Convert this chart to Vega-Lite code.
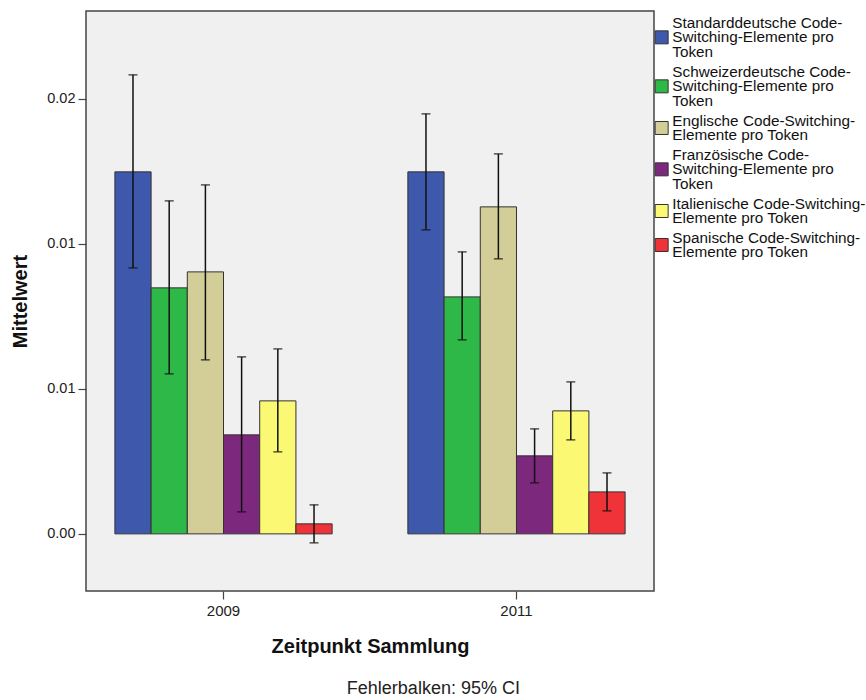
{
  "$schema": "https://vega.github.io/schema/vega-lite/v6.json",
  "width": 568,
  "height": 580,
  "autosize": {"type": "none"},
  "padding": {"left": 86, "top": 11, "right": 212, "bottom": 109},
  "background": "white",
  "config": {
    "font": "Liberation Sans",
    "view": {"fill": "#F0F0F0", "stroke": "#444444", "strokeWidth": 1.5},
    "axis": {"grid": false, "domain": false, "tickColor": "#444444", "tickWidth": 1.2, "labelColor": "#222222", "titleColor": "#111111"},
    "style": {"guide-label": {"lineHeight": 14.7}}
  },
  "title": {
    "text": "Fehlerbalken: 95% CI",
    "orient": "bottom",
    "anchor": "middle",
    "frame": "bounds",
    "fontSize": 18,
    "fontWeight": "normal",
    "color": "#222222",
    "offset": 24,
    "dx": -7
  },
  "data": {
    "values": [
      {"jahr": "2009", "serie": "Standarddeutsche Code-Switching-Elemente pro Token", "mittel": 0.012483, "lo": 0.009172, "hi": 0.015828},
      {"jahr": "2009", "serie": "Schweizerdeutsche Code-Switching-Elemente pro Token", "mittel": 0.008483, "lo": 0.005517, "hi": 0.011483},
      {"jahr": "2009", "serie": "Englische Code-Switching-Elemente pro Token", "mittel": 0.009034, "lo": 0.006, "hi": 0.012034},
      {"jahr": "2009", "serie": "Französische Code-Switching-Elemente pro Token", "mittel": 0.003414, "lo": 0.000759, "hi": 0.006103},
      {"jahr": "2009", "serie": "Italienische Code-Switching-Elemente pro Token", "mittel": 0.004586, "lo": 0.002828, "hi": 0.006379},
      {"jahr": "2009", "serie": "Spanische Code-Switching-Elemente pro Token", "mittel": 0.000345, "lo": -0.00031, "hi": 0.001},
      {"jahr": "2011", "serie": "Standarddeutsche Code-Switching-Elemente pro Token", "mittel": 0.012483, "lo": 0.010483, "hi": 0.014483},
      {"jahr": "2011", "serie": "Schweizerdeutsche Code-Switching-Elemente pro Token", "mittel": 0.008172, "lo": 0.00669, "hi": 0.009724},
      {"jahr": "2011", "serie": "Englische Code-Switching-Elemente pro Token", "mittel": 0.011276, "lo": 0.009483, "hi": 0.013103},
      {"jahr": "2011", "serie": "Französische Code-Switching-Elemente pro Token", "mittel": 0.00269, "lo": 0.001759, "hi": 0.003621},
      {"jahr": "2011", "serie": "Italienische Code-Switching-Elemente pro Token", "mittel": 0.004241, "lo": 0.003241, "hi": 0.005241},
      {"jahr": "2011", "serie": "Spanische Code-Switching-Elemente pro Token", "mittel": 0.001448, "lo": 0.000793, "hi": 0.002103}
    ]
  },
  "encoding": {
    "x": {
      "field": "jahr",
      "type": "nominal",
      "scale": {"paddingInner": 0.2585, "paddingOuter": 0.0986},
      "axis": {
        "title": "Zeitpunkt Sammlung",
        "labelAngle": 0,
        "labelFontSize": 15,
        "tickSize": 8,
        "labelPadding": 4,
        "titleFontSize": 20,
        "titleFontWeight": "bold",
        "titlePadding": 18
      }
    },
    "xOffset": {
      "field": "serie",
      "type": "nominal",
      "sort": null,
      "scale": {"paddingInner": 0, "paddingOuter": 0}
    }
  },
  "layer": [
    {
      "mark": {"type": "bar", "stroke": "#333333", "strokeWidth": 1, "opacity": 1},
      "encoding": {
        "y": {
          "field": "mittel",
          "type": "quantitative",
          "scale": {"domain": [-0.00197, 0.01803], "nice": false, "zero": false},
          "axis": {
            "title": "Mittelwert",
            "values": [0, 0.005, 0.01, 0.015],
            "labelExpr": "format(datum.value + 1e-9, '.2f')",
            "labelFontSize": 14.5,
            "tickSize": 8,
            "labelPadding": 3,
            "titleFontSize": 20,
            "titleFontWeight": "bold",
            "titlePadding": 16
          }
        },
        "color": {
          "field": "serie",
          "type": "nominal",
          "sort": null,
          "scale": {
            "domain": [
              "Standarddeutsche Code-Switching-Elemente pro Token",
              "Schweizerdeutsche Code-Switching-Elemente pro Token",
              "Englische Code-Switching-Elemente pro Token",
              "Französische Code-Switching-Elemente pro Token",
              "Italienische Code-Switching-Elemente pro Token",
              "Spanische Code-Switching-Elemente pro Token"
            ],
            "range": ["#3E58AC", "#2EB848", "#D3CE97", "#7C287D", "#FBF873", "#EF3338"]
          },
          "legend": {
            "title": null,
            "orient": "right",
            "offset": -4,
            "padding": 4,
            "symbolSize": 169,
            "symbolStrokeColor": "#333333",
            "symbolStrokeWidth": 1,
            "symbolOpacity": 1,
            "labelFontSize": 15.3,
            "labelColor": "#111111",
            "labelLimit": 300,
            "labelOffset": 3,
            "rowPadding": 3,
            "labelExpr": "{'Standarddeutsche Code-Switching-Elemente pro Token': ['Standarddeutsche Code-', 'Switching-Elemente pro', 'Token'], 'Schweizerdeutsche Code-Switching-Elemente pro Token': ['Schweizerdeutsche Code-', 'Switching-Elemente pro', 'Token'], 'Englische Code-Switching-Elemente pro Token': ['Englische Code-Switching-', 'Elemente pro Token'], 'Französische Code-Switching-Elemente pro Token': ['Französische Code-', 'Switching-Elemente pro', 'Token'], 'Italienische Code-Switching-Elemente pro Token': ['Italienische Code-Switching-', 'Elemente pro Token'], 'Spanische Code-Switching-Elemente pro Token': ['Spanische Code-Switching-', 'Elemente pro Token']}[datum.label]"
          }
        }
      }
    },
    {
      "transform": [{"filter": "datum.mittel < -1"}],
      "mark": {"type": "point", "filled": true, "opacity": 1},
      "encoding": {
        "y": {"field": "mittel", "type": "quantitative"},
        "color": {"field": "serie", "type": "nominal", "sort": null},
        "shape": {
          "field": "serie",
          "type": "nominal",
          "sort": null,
          "scale": {
            "domain": [
              "Standarddeutsche Code-Switching-Elemente pro Token",
              "Schweizerdeutsche Code-Switching-Elemente pro Token",
              "Englische Code-Switching-Elemente pro Token",
              "Französische Code-Switching-Elemente pro Token",
              "Italienische Code-Switching-Elemente pro Token",
              "Spanische Code-Switching-Elemente pro Token"
            ],
            "range": [
              "M-1,1.26H1V3.26H-1Z",
              "M-1,1.26H1V3.26H-1Z",
              "M-1,0.13H1V2.13H-1Z",
              "M-1,1.26H1V3.26H-1Z",
              "M-1,0.13H1V2.13H-1Z",
              "M-1,0.13H1V2.13H-1Z"
            ]
          }
        }
      }
    },
    {
      "mark": {"type": "rule", "color": "#111111", "strokeWidth": 1.5},
      "encoding": {
        "y": {"field": "lo", "type": "quantitative"},
        "y2": {"field": "hi"}
      }
    },
    {
      "mark": {"type": "tick", "color": "#111111", "size": 9, "thickness": 1.5},
      "encoding": {
        "y": {"field": "lo", "type": "quantitative"}
      }
    },
    {
      "mark": {"type": "tick", "color": "#111111", "size": 9, "thickness": 1.5},
      "encoding": {
        "y": {"field": "hi", "type": "quantitative"}
      }
    }
  ]
}
